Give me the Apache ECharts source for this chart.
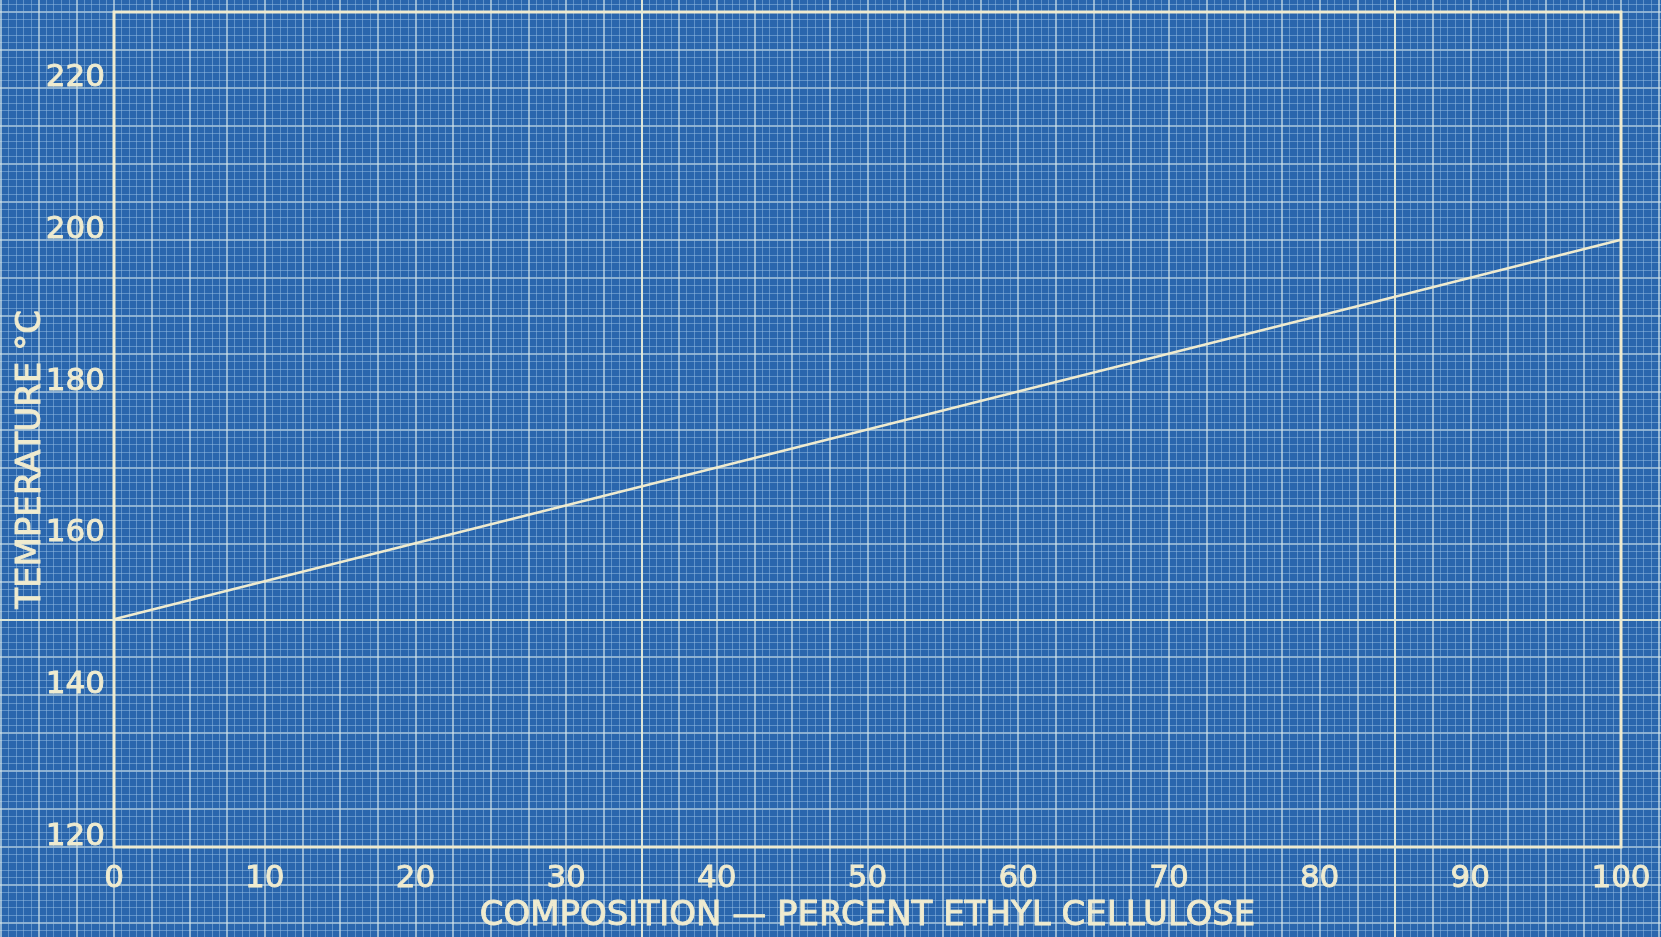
<!DOCTYPE html>
<html>
<head>
<meta charset="utf-8">
<script src="https://cdn.jsdelivr.net/npm/echarts@6/dist/echarts.min.js"></script>
<style>
  html, body { margin: 0; padding: 0; background: #2a66ad; }
  #chart { width: 1661px; height: 937px; }
</style>
</head>
<body>
<div id="chart"></div>
<script>
// ---- data ----
const composition = [0, 20, 40, 60, 80, 100];          // percent ethyl cellulose
const temperature = [150, 160, 170, 180, 190, 200];    // °C
const xTickLabels = [0, 10, 20, 30, 40, 50, 60, 70, 80, 90, 100];
const yTickLabels = [120, 140, 160, 180, 200, 220];
const heavyPaperX = [35, 85];
const heavyPaperY = [150];
const xTitle = 'COMPOSITION — PERCENT ETHYL CELLULOSE';
const yTitle = 'TEMPERATURE °C';

const cream = '#efebcf';
const font = 'DejaVu Sans';

const chart = echarts.init(document.getElementById('chart'), null, { renderer: 'canvas' });

// plot geometry (px) and scales
const L = 114, T = 12, W = 1507, H = 835;
const sx = W / 100, sy = H / 110;
// paper grid extends over whole canvas
const pxMin = -10, pxMax = 110, pyMin = 100, pyMax = 250;

const textBold = { textBorderColor: cream, textBorderWidth: 0.9 };

const option = {
  backgroundColor: '#2a66ad',
  animation: false,
  grid: [
    { left: L, top: T, width: W, height: H, show: true, borderColor: cream, borderWidth: 3,
      backgroundColor: 'transparent', z: 5, outerBoundsMode: 'none', containLabel: false },
    { left: L + pxMin * sx, top: T - (pyMax - 230) * sy, width: (pxMax - pxMin) * sx, height: (pyMax - pyMin) * sy,
      show: false, outerBoundsMode: 'none', containLabel: false }
  ],
  xAxis: [
    {
      type: 'value', gridIndex: 0, min: 0, max: 100, interval: 10,
      axisLine: { show: false }, axisTick: { show: false }, splitLine: { show: false },
      axisLabel: Object.assign({
        color: cream, fontFamily: font, fontSize: 31, margin: 16,
        formatter: v => xTickLabels.includes(v) ? String(v) : ''
      }, textBold),
      name: xTitle, nameLocation: 'middle', nameGap: 52, nameMoveOverlap: false,
      nameTextStyle: Object.assign({ color: cream, fontFamily: font, fontSize: 34 }, textBold)
    },
    {
      type: 'value', gridIndex: 1, min: pxMin, max: pxMax, interval: 2.5,
      axisLine: { show: false }, axisTick: { show: false }, axisLabel: { show: false },
      splitLine: { show: true, lineStyle: { color: 'rgba(212,230,234,0.78)', width: 1.6 } },
      minorTick: { show: false, splitNumber: 5 },
      minorSplitLine: { show: true, lineStyle: { color: 'rgba(150,190,228,0.5)', width: 1 } }
    }
  ],
  yAxis: [
    {
      type: 'value', gridIndex: 0, min: 120, max: 230, interval: 20,
      axisLine: { show: false }, axisTick: { show: false }, splitLine: { show: false },
      axisLabel: Object.assign({
        color: cream, fontFamily: font, fontSize: 31, margin: 9,
        verticalAlign: 'bottom', lineHeight: 20,
        formatter: v => yTickLabels.includes(v) ? String(v) : ''
      }, textBold),
      name: yTitle, nameLocation: 'middle', nameGap: 66, nameRotate: 90, nameMoveOverlap: false,
      nameTextStyle: Object.assign({ color: cream, fontFamily: font, fontSize: 34, padding: [0, 60, 0, 0] }, textBold)
    },
    {
      type: 'value', gridIndex: 1, min: pyMin, max: pyMax, interval: 5,
      axisLine: { show: false }, axisTick: { show: false }, axisLabel: { show: false },
      splitLine: { show: true, lineStyle: { color: 'rgba(212,230,234,0.78)', width: 1.6 } },
      minorTick: { show: false, splitNumber: 5 },
      minorSplitLine: { show: true, lineStyle: { color: 'rgba(150,190,228,0.5)', width: 1 } }
    }
  ],
  series: [
    {
      type: 'line', xAxisIndex: 1, yAxisIndex: 1, data: [], silent: true,
      markLine: {
        silent: true, symbol: 'none', label: { show: false },
        lineStyle: { color: 'rgba(226,233,216,0.92)', width: 2, type: 'solid' },
        data: heavyPaperX.map(v => ({ xAxis: v })).concat(heavyPaperY.map(v => ({ yAxis: v })))
      }
    },
    {
      type: 'line', xAxisIndex: 0, yAxisIndex: 0, z: 6,
      data: composition.map((c, i) => [c, temperature[i]]),
      showSymbol: false, symbol: 'none',
      lineStyle: { color: cream, width: 2.6 }
    }
  ]
};
chart.setOption(option);
</script>
</body>
</html>
